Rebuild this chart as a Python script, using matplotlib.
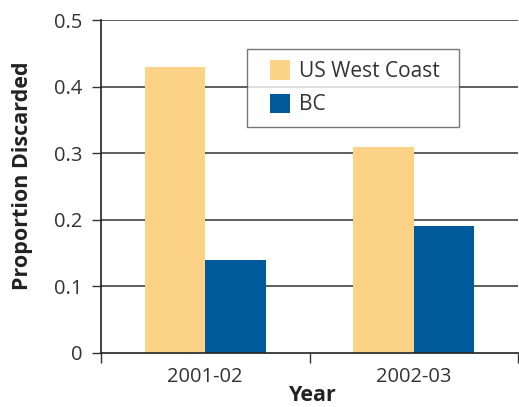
import matplotlib
matplotlib.use("Agg")
import matplotlib.pyplot as plt
import numpy as np
from matplotlib.patches import Patch, Rectangle
from matplotlib.legend_handler import HandlerPatch

plt.rcParams['font.family'] = ['Open Sans', 'DejaVu Sans']

years = ["2001-02", "2002-03"]
us_west_coast = [0.43, 0.31]
bc = [0.14, 0.19]
series_names = ["US West Coast", "BC"]
yticks = [0, 0.1, 0.2, 0.3, 0.4, 0.5]
ytick_labels = ["0", "0.1", "0.2", "0.3", "0.4", "0.5"]

c_us = "#FCD286"
c_bc = "#005A9C"
text_c = "#333333"

W, H = 519, 407
fig = plt.figure(figsize=(W / 100, H / 100), dpi=100)
ax = fig.add_axes([101 / W, 54 / H, 417 / W, 333 / H])

x = np.arange(len(years))
w = 0.29
ax.bar(x - w / 2, us_west_coast, w, color=c_us, zorder=3)
ax.bar(x + w / 2, bc, w, color=c_bc, zorder=3)

ax.set_xlim(-0.5, 1.5)
ax.set_ylim(0, 0.5)
ax.set_yticks(yticks)
ax.set_yticklabels(ytick_labels)
for yv in yticks[1:]:
    ax.axhline(yv, color="#333333", lw=1.1, zorder=1)

ax.set_xticks(x)
ax.set_xticklabels(years)
ax.set_xticks([-0.5, 0.5, 1.5], minor=True)
ax.tick_params(axis='x', which='major', length=0, pad=10, labelsize=14.5, labelcolor=text_c)
ax.tick_params(axis='x', which='minor', length=7, width=1, direction='out', color="#333333")
ax.tick_params(axis='y', length=6.5, width=1, direction='out', pad=7, labelsize=14.5,
               labelcolor=text_c, color="#333333")

for s in ["top", "right"]:
    ax.spines[s].set_visible(False)
for s in ["left", "bottom"]:
    ax.spines[s].set_color("#222222")
    ax.spines[s].set_linewidth(1.2)
ax.spines["bottom"].set_zorder(4)

# axis titles
fig.text(28 / W, 1 - 176 / H, "Proportion Discarded", rotation=90, rotation_mode='anchor',
         ha='center', va='baseline', fontsize=15.5, fontweight='bold', color="#222222")
fig.text(313 / W, 1 - 401 / H, "Year", ha='center', va='baseline',
         fontsize=15.5, fontweight='bold', color="#222222")


# square legend keys set in from the frame edge
def square_key(legend, orig_handle, xdescent, ydescent, width, height, fontsize):
    side = height
    return Rectangle((-xdescent + width - side, -ydescent), side, side)


handles = [Patch(facecolor=c_us, edgecolor='none'), Patch(facecolor=c_bc, edgecolor='none')]
leg = ax.legend(handles, series_names, loc="upper left",
                bbox_to_anchor=(146 / 417, 0, 212 / 417, 304 / 333), mode="expand",
                frameon=True, fancybox=False, fontsize=15, handlelength=1.5, handleheight=1.05,
                handletextpad=0.45, borderpad=0.55, labelspacing=0.55, borderaxespad=0,
                handler_map={Patch: HandlerPatch(patch_func=square_key)})
leg.get_frame().set_edgecolor("#555555")
leg.get_frame().set_linewidth(1.0)
for t in leg.get_texts():
    t.set_color(text_c)
leg.set_zorder(5)

fig.savefig("out.png", dpi=100)
